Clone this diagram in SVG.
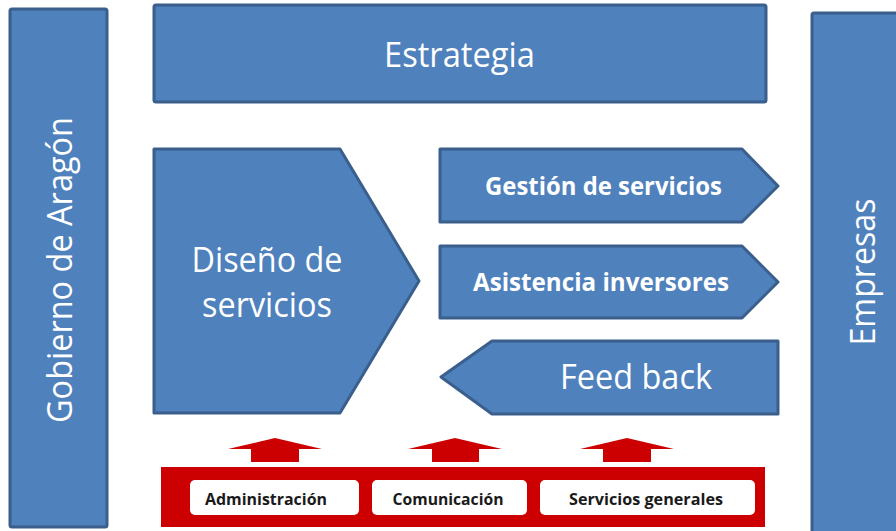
<svg xmlns="http://www.w3.org/2000/svg" width="896" height="531" viewBox="0 0 896 531">
<style>
.blk{fill:#4f81bd;stroke:#3a5f8c;stroke-width:3;stroke-linejoin:round}
.big{font-family:"Open Sans","Noto Sans","Liberation Sans",sans-serif;font-size:34px;fill:#ffffff;text-anchor:middle}
.bold{font-family:"Open Sans","Noto Sans","Liberation Sans",sans-serif;font-size:25px;font-weight:bold;fill:#ffffff;text-anchor:middle}
.red{fill:#cc0000}
.wbox{fill:#ffffff}
.small{font-family:"Open Sans","Noto Sans","Liberation Sans",sans-serif;font-size:16px;font-weight:bold;fill:#1a1a1a;text-anchor:middle}
</style>
<rect width="896" height="531" fill="#ffffff"/>
<g id="gobierno">
<rect class="blk" x="10" y="9" width="97" height="518" rx="2"/>
<text class="big" transform="translate(72,270) rotate(-90)" x="0" y="0" textLength="306" lengthAdjust="spacingAndGlyphs">Gobierno de Aragón</text>
</g>
<g id="empresas">
<rect class="blk" x="812" y="13" width="100" height="530" rx="2"/>
<text class="big" transform="translate(875,272) rotate(-90)" x="0" y="0" textLength="147" lengthAdjust="spacingAndGlyphs">Empresas</text>
</g>
<g id="estrategia">
<rect class="blk" x="154" y="5" width="612" height="97" rx="2"/>
<text class="big" x="459.5" y="67" textLength="151" lengthAdjust="spacingAndGlyphs">Estrategia</text>
</g>
<g id="diseno">
<polygon class="blk" points="154,149 340,149 419,281 340,413 154,413"/>
<text class="big" x="267" y="272" textLength="151" lengthAdjust="spacingAndGlyphs">Diseño de</text>
<text class="big" x="267" y="317" textLength="130" lengthAdjust="spacingAndGlyphs">servicios</text>
</g>
<g id="gestion">
<polygon class="blk" points="440,149 742,149 778,186 742,222 440,222"/>
<text class="bold" x="603.5" y="195" textLength="237" lengthAdjust="spacingAndGlyphs">Gestión de servicios</text>
</g>
<g id="asistencia">
<polygon class="blk" points="440,246 742,246 778,282 742,318 440,318"/>
<text class="bold" x="601" y="291" textLength="256" lengthAdjust="spacingAndGlyphs">Asistencia inversores</text>
</g>
<g id="feedback">
<polygon class="blk" points="441,377 492,341 778,341 778,414 492,414"/>
<text class="big" x="636" y="389" textLength="152" lengthAdjust="spacingAndGlyphs">Feed back</text>
</g>
<g id="soporte">
<rect class="red" x="161" y="467" width="604" height="60"/>
<rect class="wbox" x="190" y="480" width="169" height="35" rx="5"/>
<rect class="wbox" x="372" y="480" width="155" height="35" rx="5"/>
<rect class="wbox" x="540" y="480" width="215" height="35" rx="5"/>
<text class="small" x="266" y="505" textLength="122" lengthAdjust="spacingAndGlyphs">Administración</text>
<text class="small" x="448" y="505" textLength="111" lengthAdjust="spacingAndGlyphs">Comunicación</text>
<text class="small" x="646" y="505" textLength="154" lengthAdjust="spacingAndGlyphs">Servicios generales</text>
</g>
<g id="connectors">
<polygon class="red" points="275,438 322,449 299,449 299,462 251,462 251,449 228,449"/>
<polygon class="red" points="455,438 502,449 479,449 479,462 432,462 432,449 408,449"/>
<polygon class="red" points="627,438 674,449 651,449 651,462 603,462 603,449 580,449"/>
</g>
</svg>
